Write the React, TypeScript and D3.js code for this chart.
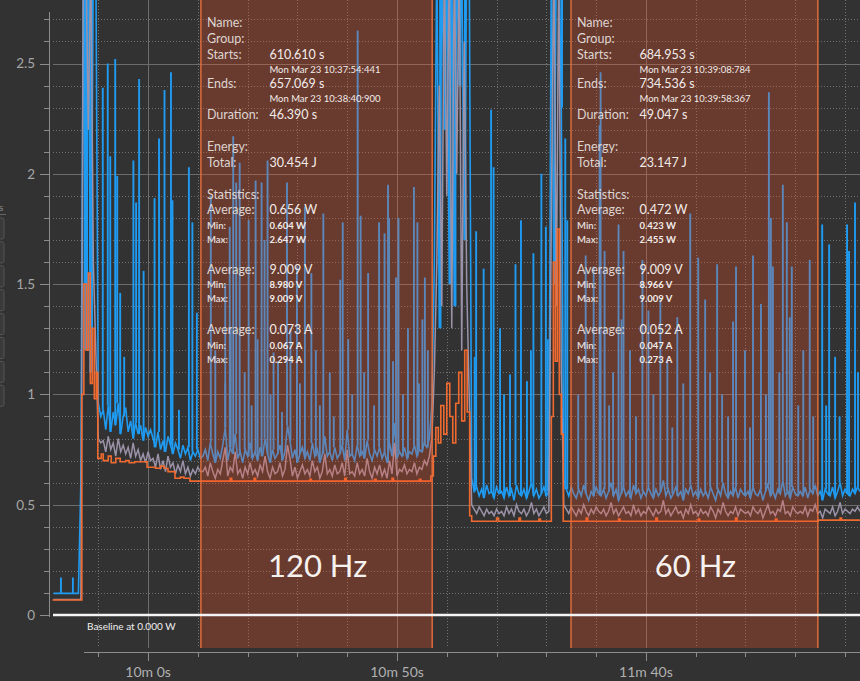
import React, { useEffect, useRef } from 'react';
import * as d3 from 'd3';

const WIDTH = 860;
const HEIGHT = 681;

// power traces sampled every TRACE_STEP seconds, starting at TRACE_START (seconds)
const TRACE_START = 581.0;
const TRACE_STEP = 0.5;

// max power (blue), W
const maxTrace: number[] = [
  0.098, 0.098, 0.098, 0.098, 0.098, 0.098, 0.098, 0.098, 0.098, 0.098, 0.098, 0.6, 3.0, 1.2, 3.0, 1.1, 3.0, 3.0, 0.96, 0.9,
  0.93, 0.84, 0.95, 0.83, 0.92, 0.86, 0.96, 0.82, 0.9, 0.94, 0.83, 0.88, 0.8, 0.87, 0.82, 0.86, 0.79, 0.85, 0.81, 0.84,
  0.8, 0.76, 0.83, 0.75, 0.79, 0.74, 0.81, 0.77, 0.73, 0.78, 0.75, 0.71, 0.77, 0.73, 0.76, 0.7, 0.74, 0.72, 0.75, 0.71,
  0.72, 0.75, 0.7, 0.78, 0.73, 0.69, 0.74, 0.71, 0.77, 0.85, 0.7, 0.76, 0.73, 0.82, 0.71, 0.74, 0.69, 0.75, 0.72, 0.78,
  0.71, 0.74, 0.7, 0.76, 0.72, 0.8, 0.73, 0.69, 0.75, 0.71, 0.73, 0.77, 0.7, 0.74, 0.86, 0.79, 0.71, 0.75, 0.69, 0.73,
  0.76, 0.71, 0.74, 0.7, 0.78, 0.72, 0.75, 0.69, 0.73, 0.81, 0.72, 0.74, 0.7, 0.76, 0.71, 0.73, 0.77, 0.7, 0.84, 0.72,
  0.73, 0.7, 0.77, 0.72, 0.74, 0.71, 0.79, 0.73, 0.7, 0.75, 0.72, 0.76, 0.71, 0.74, 0.69, 0.78, 0.72, 0.87, 0.71, 0.74,
  0.72, 0.76, 0.71, 0.74, 0.73, 0.77, 0.72, 0.75, 0.74, 0.78, 0.76, 0.8, 0.95, 1.6, 3.0, 1.3, 3.0, 2.2, 3.0, 1.5,
  3.0, 1.4, 3.0, 2.4, 3.0, 1.7, 3.0, 3.0, 0.62, 0.56, 0.58, 0.54, 0.57, 0.53, 0.59, 0.55, 0.56, 0.53, 0.58, 0.55,
  0.56, 0.53, 0.58, 0.54, 0.57, 0.52, 0.59, 0.55, 0.54, 0.57, 0.53, 0.56, 0.6, 0.54, 0.57, 0.53, 0.55, 0.58, 0.54, 0.56,
  3.0, 1.5, 3.0, 3.0, 2.3, 0.62, 0.57, 0.54, 0.58, 0.55, 0.53, 0.57, 0.54, 0.59, 0.55, 0.52, 0.56, 0.54, 0.58, 0.55,
  0.54, 0.57, 0.53, 0.56, 0.6, 0.54, 0.57, 0.52, 0.55, 0.58, 0.54, 0.56, 0.53, 0.59, 0.55, 0.57, 0.53, 0.56, 0.54, 0.58,
  0.55, 0.53, 0.57, 0.54, 0.56, 0.61, 0.54, 0.57, 0.53, 0.55, 0.58, 0.54, 0.56, 0.52, 0.57, 0.55, 0.59, 0.54, 0.56, 0.53,
  0.57, 0.54, 0.56, 0.53, 0.58, 0.55, 0.52, 0.57, 0.54, 0.6, 0.55, 0.53, 0.56, 0.54, 0.58, 0.53, 0.57, 0.55, 0.54, 0.56,
  0.53, 0.58, 0.55, 0.54, 0.57, 0.52, 0.56, 0.59, 0.54, 0.56, 0.53, 0.57, 0.55, 0.61, 0.54, 0.56, 0.53, 0.58, 0.55, 0.54,
  0.56, 0.54, 0.58, 0.53, 0.57, 0.55, 0.59, 0.54, 0.56, 0.52, 0.57, 0.55, 0.54, 0.58, 0.53, 0.56, 0.6, 0.54, 0.57, 0.55,
  0.54, 0.57, 0.55, 0.58, 0.56,
];

// average power (grey), W
const avgTrace: number[] = [
  0.07, 0.07, 0.07, 0.07, 0.07, 0.07, 0.07, 0.07, 0.07, 0.07, 0.07, 0.07, 3.0, 3.0, 2.2, 3.0, 1.6, 1.2, 0.8, 0.78,
  0.79, 0.74, 0.81, 0.75, 0.78, 0.72, 0.8, 0.74, 0.77, 0.73, 0.76, 0.71, 0.78, 0.72, 0.75, 0.7, 0.73, 0.69, 0.74, 0.7,
  0.71, 0.67, 0.73, 0.66, 0.7, 0.65, 0.72, 0.67, 0.69, 0.64, 0.68, 0.65, 0.7, 0.64, 0.67, 0.63, 0.66, 0.64, 0.67, 0.65,
  0.65, 0.67, 0.63, 0.69, 0.65, 0.62, 0.66, 0.64, 0.7, 0.76, 0.63, 0.67, 0.65, 0.74, 0.64, 0.66, 0.62, 0.67, 0.64, 0.69,
  0.64, 0.66, 0.63, 0.68, 0.65, 0.72, 0.65, 0.62, 0.67, 0.64, 0.65, 0.69, 0.63, 0.66, 0.77, 0.71, 0.63, 0.67, 0.62, 0.65,
  0.68, 0.64, 0.66, 0.63, 0.7, 0.65, 0.67, 0.62, 0.65, 0.73, 0.64, 0.66, 0.63, 0.68, 0.64, 0.65, 0.69, 0.63, 0.75, 0.64,
  0.65, 0.63, 0.69, 0.64, 0.66, 0.63, 0.71, 0.65, 0.62, 0.67, 0.64, 0.68, 0.63, 0.66, 0.62, 0.7, 0.64, 0.78, 0.63, 0.66,
  0.65, 0.68, 0.64, 0.66, 0.65, 0.69, 0.64, 0.67, 0.66, 0.7, 0.68, 0.72, 0.8, 1.1, 1.6, 2.4, 1.4, 3.0, 1.9, 3.0,
  1.3, 3.0, 2.0, 3.0, 1.2, 2.6, 1.5, 1.0, 0.5, 0.48, 0.46, 0.49, 0.47, 0.45, 0.48, 0.46, 0.47, 0.45, 0.48, 0.46,
  0.47, 0.45, 0.49, 0.46, 0.48, 0.45, 0.5, 0.47, 0.46, 0.48, 0.45, 0.47, 0.51, 0.46, 0.48, 0.45, 0.47, 0.49, 0.46, 0.47,
  1.8, 3.0, 1.4, 3.0, 1.1, 0.5, 0.48, 0.46, 0.49, 0.47, 0.45, 0.48, 0.46, 0.5, 0.47, 0.45, 0.48, 0.46, 0.49, 0.47,
  0.46, 0.48, 0.45, 0.47, 0.51, 0.46, 0.48, 0.45, 0.47, 0.49, 0.46, 0.47, 0.45, 0.5, 0.46, 0.48, 0.45, 0.47, 0.46, 0.49,
  0.47, 0.45, 0.48, 0.46, 0.47, 0.52, 0.46, 0.48, 0.45, 0.47, 0.49, 0.46, 0.47, 0.44, 0.48, 0.46, 0.5, 0.46, 0.47, 0.45,
  0.48, 0.46, 0.47, 0.45, 0.49, 0.47, 0.44, 0.48, 0.46, 0.51, 0.47, 0.45, 0.47, 0.46, 0.49, 0.45, 0.48, 0.47, 0.46, 0.47,
  0.45, 0.49, 0.47, 0.46, 0.48, 0.44, 0.47, 0.5, 0.46, 0.47, 0.45, 0.48, 0.47, 0.52, 0.46, 0.47, 0.45, 0.49, 0.47, 0.46,
  0.47, 0.46, 0.49, 0.45, 0.48, 0.47, 0.5, 0.46, 0.47, 0.44, 0.48, 0.47, 0.46, 0.49, 0.45, 0.47, 0.51, 0.46, 0.48, 0.47,
  0.46, 0.48, 0.47, 0.49, 0.47,
];

// min power (orange) as [time s, W] steps
const minSteps: [number, number][] = [
  [580.8, 0.068], [586.7, 1.0], [587.1, 1.5], [587.6, 1.2], [588.0, 1.55], [588.4, 1.05], [588.8, 1.3],
  [589.2, 0.98], [589.6, 1.1], [589.9, 0.71], [590.6, 0.73], [591.0, 0.7], [592.0, 0.72], [592.6, 0.69],
  [593.5, 0.71], [594.4, 0.695], [595.5, 0.7], [596.2, 0.69], [597.3, 0.695], [599.8, 0.67], [601.5, 0.665],
  [602.5, 0.675], [603.2, 0.665], [604.0, 0.65], [605.4, 0.62], [606.5, 0.625], [607.2, 0.62], [608.4, 0.607],
  [616.5, 0.62], [616.8, 0.607], [621.3, 0.62], [621.6, 0.607], [632.5, 0.615], [632.8, 0.607],
  [639.5, 0.62], [639.8, 0.607], [645.5, 0.615], [645.8, 0.607], [649.0, 0.62], [649.3, 0.607],
  [654.5, 0.615], [654.8, 0.607], [656.8, 0.63], [657.3, 0.72], [657.8, 0.85], [658.3, 0.78], [658.8, 0.95],
  [659.4, 0.82], [660.0, 1.05], [660.6, 0.9], [661.2, 0.78], [661.8, 0.96], [662.4, 1.1], [663.0, 0.88],
  [663.6, 1.2], [664.1, 0.92], [664.6, 0.45], [665.0, 0.425], [670.0, 0.44], [670.4, 0.425], [674.5, 0.44],
  [674.8, 0.425], [678.5, 0.435], [678.8, 0.425], [681.0, 0.9], [681.4, 1.6], [681.8, 1.15], [682.2, 1.75],
  [682.6, 1.0], [683.0, 0.82], [683.4, 0.425], [688.0, 0.44], [688.3, 0.425], [694.5, 0.435], [694.8, 0.425],
  [702.0, 0.44], [702.3, 0.425], [710.5, 0.435], [710.8, 0.425], [718.0, 0.44], [718.3, 0.425], [726.0, 0.435],
  [726.3, 0.425], [734.6, 0.43], [739.0, 0.44], [739.3, 0.43], [743.0, 0.43],
];

// narrow peaks of the max trace, [time s, W]; the bursts run off the top
const maxSpikes: [number, number][] = [
  [582.5, 0.17], [584.9, 0.17],
  [586.9, 3.0], [587.3, 3.0], [587.7, 3.0], [588.1, 3.0], [588.4, 3.0], [588.7, 3.0], [589.0, 3.0], [589.3, 3.0],
  [589.6, 3.0],
  [590.9, 2.39], [591.9, 2.5], [592.4, 2.08], [593.4, 2.52], [593.8, 1.99], [594.4, 1.46], [595.2, 1.17],
  [597.05, 2.06], [597.6, 1.87], [598.2, 2.43], [599.1, 1.56], [601.3, 1.89], [602.2, 2.16], [603.3, 2.38],
  [604.6, 2.46], [604.9, 1.88], [606.2, 0.93], [608.2, 2.03], [608.9, 1.78], [609.8, 1.37],
  [612.6, 1.9], [613.5, 1.2], [615.5, 1.05], [615.5, 1.5], [616.4, 1.76], [616.6, 1.3], [617.1, 2.17],
  [617.7, 1.96], [618.4, 2.05], [619.4, 1.1], [620.2, 1.79], [620.8, 0.95], [621.6, 1.97], [622.0, 1.25],
  [622.8, 1.96], [623.4, 1.7], [624.0, 2.06], [624.6, 1.0], [625.2, 1.19], [626.1, 1.15], [626.9, 0.92],
  [627.9, 1.96], [628.6, 1.3], [629.9, 1.58], [630.5, 1.05], [631.5, 1.85], [632.8, 1.55], [633.7, 1.2],
  [634.5, 0.95], [635.2, 1.82], [636.5, 1.1], [637.3, 0.9], [638.6, 1.52], [639.1, 1.78], [640.2, 1.25],
  [641.0, 1.0], [642.1, 2.65], [642.7, 1.81], [643.4, 1.1], [644.2, 1.55], [645.4, 0.95], [646.4, 1.78],
  [647.5, 1.73], [648.2, 1.95], [648.4, 1.8], [649.2, 1.15], [649.8, 1.53], [650.3, 1.8], [651.2, 1.0],
  [652.2, 1.3], [653.4, 1.94], [654.1, 1.78], [654.4, 1.05], [655.1, 1.34], [655.6, 1.53], [656.2, 1.2],
  [657.8, 3.0], [658.2, 3.0], [658.7, 3.0], [659.2, 3.0], [659.7, 3.0], [660.2, 3.0], [660.7, 3.0],
  [661.2, 3.0], [661.7, 3.0], [662.2, 3.0], [662.7, 3.0], [663.2, 3.0], [663.7, 3.0], [664.2, 3.0],
  [665.6, 1.17], [665.9, 1.74], [667.4, 1.57], [668.9, 2.29], [669.4, 2.03], [670.7, 1.3], [671.5, 1.0],
  [672.7, 1.09], [673.8, 1.59], [674.9, 1.79], [676.1, 1.06], [676.9, 1.2], [677.4, 1.64], [679.0, 2.0],
  [679.9, 1.76], [680.3, 1.25],
  [681.2, 3.0], [681.7, 3.0], [682.2, 3.0], [682.7, 3.0], [683.1, 3.0],
  [683.8, 2.16], [684.2, 1.79],
  [686.4, 1.0], [687.9, 1.63], [689.5, 1.15], [689.5, 1.58], [690.7, 2.22], [690.9, 2.46], [691.7, 1.65],
  [692.6, 0.95], [693.4, 1.1], [694.5, 1.77], [695.1, 1.34], [695.5, 1.65], [696.8, 1.2], [698.0, 0.9],
  [699.3, 1.61], [700.5, 1.38], [701.5, 1.0], [702.9, 1.43], [704.3, 1.15], [705.3, 0.85], [706.3, 1.35],
  [707.5, 1.05], [708.9, 1.82], [710.5, 1.62], [711.9, 1.43], [712.9, 1.1], [714.3, 1.59], [715.3, 1.0],
  [716.5, 0.9], [717.5, 1.33], [718.1, 1.58], [719.9, 1.2], [720.9, 0.85], [721.5, 1.63], [723.1, 1.41],
  [724.1, 1.0], [724.7, 2.37], [725.1, 1.8], [725.5, 1.58], [726.8, 1.1], [727.5, 1.95], [728.3, 1.78],
  [728.9, 1.35], [729.3, 1.58], [730.6, 0.95], [731.6, 1.2], [732.9, 1.61], [733.6, 0.9],
  [735.4, 1.77], [736.2, 0.95], [736.8, 1.68], [738.0, 1.17], [738.9, 0.9], [740.4, 1.77], [740.8, 1.65],
  [742.0, 1.87], [742.6, 1.1],
];

// marked regions
const regionStarts = [610.61, 684.953];
const regionEnds = [657.069, 734.536];
const regionTitles = ['120 Hz', '60 Hz'];

const infoLabels = [
  'Name:', 'Group:', 'Starts:', '', 'Ends:', '', 'Duration:', 'Energy:', 'Total:', 'Statistics:',
  'Average:', 'Min:', 'Max:', 'Average:', 'Min:', 'Max:', 'Average:', 'Min:', 'Max:',
];
const region1Info = [
  '', '', '610.610 s', 'Mon Mar 23 10:37:54:441', '657.069 s', 'Mon Mar 23 10:38:40:900', '46.390 s', '',
  '30.454 J', '', '0.656 W', '0.604 W', '2.647 W', '9.009 V', '8.980 V', '9.009 V', '0.073 A', '0.067 A', '0.294 A',
];
const region2Info = [
  '', '', '684.953 s', 'Mon Mar 23 10:39:08:784', '734.536 s', 'Mon Mar 23 10:39:58:367', '49.047 s', '',
  '23.147 J', '', '0.472 W', '0.423 W', '2.455 W', '9.009 V', '8.966 V', '9.009 V', '0.052 A', '0.047 A', '0.273 A',
];

const yTicks = [0, 0.5, 1, 1.5, 2, 2.5];
const xTicks = [600, 650, 700];
const xTickLabels = ['10m 0s', '10m 50s', '11m 40s'];

// text layout of the info block
const infoRowY = [27, 43, 59, 73, 88, 102, 119, 151, 167, 199, 214, 229, 243, 274, 288, 302, 334, 349, 363];
const infoRowKind = ['big', 'big', 'big', 'date', 'big', 'date', 'big', 'big', 'big', 'big',
  'big', 'stat', 'stat', 'big', 'stat', 'stat', 'big', 'stat', 'stat'];

const FONT = 'Lato, "Open Sans", sans-serif';
const BLUE = '#1f9bf2';
const GREY = '#9b92a8';
const ORANGE = '#f06a30';

const App: React.FC = () => {
  const svgRef = useRef<SVGSVGElement>(null);

  useEffect(() => {
    if (!svgRef.current) return;
    const svg = d3.select(svgRef.current);
    svg.selectAll('*').remove();

    const x = d3.scaleLinear().domain([580.3, 743.0]).range([50, 860]);
    const y = d3.scaleLinear().domain([0, 2.5]).range([615, 63.5]);
    const plotBottom = 648;

    svg.append('rect').attr('width', WIDTH).attr('height', HEIGHT).attr('fill', '#323232');

    // left side widgets (cut off)
    d3.range(8).forEach(i => {
      svg.append('rect')
        .attr('x', -5).attr('y', 218 + i * 23.9).attr('width', 9).attr('height', 21).attr('rx', 2)
        .attr('fill', '#3a3a3a').attr('stroke', '#545454');
    });
    svg.append('text').attr('x', -1).attr('y', 211).style('font-family', FONT).style('font-size', '10px')
      .style('fill', '#8a8a8a').text('s');
    svg.append('line').attr('x1', 0).attr('x2', 6).attr('y1', 214.5).attr('y2', 214.5).attr('stroke', '#666');

    // grid
    const grid = svg.append('g');
    d3.range(1, 28).filter(i => i % 5 !== 0).forEach(i => {
      grid.append('line')
        .attr('x1', 53).attr('x2', WIDTH).attr('y1', Math.round(y(i / 10)) + 0.5).attr('y2', Math.round(y(i / 10)) + 0.5)
        .attr('stroke', '#707070').attr('stroke-dasharray', '1,2');
    });
    yTicks.forEach(v => {
      grid.append('line')
        .attr('x1', 53).attr('x2', WIDTH).attr('y1', Math.round(y(v)) + 0.5).attr('y2', Math.round(y(v)) + 0.5)
        .attr('stroke', '#6c6c6c');
    });
    d3.range(590, 750, 10).filter(t => !xTicks.includes(t)).forEach(t => {
      grid.append('line')
        .attr('x1', Math.round(x(t)) + 0.5).attr('x2', Math.round(x(t)) + 0.5).attr('y1', 0).attr('y2', plotBottom)
        .attr('stroke', '#707070').attr('stroke-dasharray', '1,2');
    });
    xTicks.forEach(t => {
      grid.append('line')
        .attr('x1', Math.round(x(t)) + 0.5).attr('x2', Math.round(x(t)) + 0.5).attr('y1', 0).attr('y2', plotBottom)
        .attr('stroke', '#6c6c6c');
    });

    // traces
    const traceLine = d3.line<number>()
      .x((_, i) => x(TRACE_START + i * TRACE_STEP))
      .y(d => y(d));

    svg.append('path').attr('d', traceLine(maxTrace))
      .attr('fill', 'none').attr('stroke', BLUE).attr('stroke-width', 1.6);

    maxSpikes.forEach(([t, v]) => {
      const idx = Math.max(0, Math.min(maxTrace.length - 1, Math.round((t - TRACE_START) / TRACE_STEP)));
      svg.append('line')
        .attr('x1', x(t)).attr('x2', x(t)).attr('y1', y(Math.min(maxTrace[idx], v))).attr('y2', y(v))
        .attr('stroke', BLUE).attr('stroke-width', v >= 3 ? 2.4 : 1.9);
    });

    svg.append('path').attr('d', traceLine(avgTrace))
      .attr('fill', 'none').attr('stroke', GREY).attr('stroke-width', 1.5);

    const stepLine = d3.line<[number, number]>()
      .x(d => x(d[0])).y(d => y(d[1]))
      .curve(d3.curveStepAfter);
    svg.append('path').attr('d', stepLine(minSteps))
      .attr('fill', 'none').attr('stroke', ORANGE).attr('stroke-width', 1.6);

    // regions
    regionStarts.forEach((start, r) => {
      const x0 = x(start);
      const x1 = x(regionEnds[r]);
      svg.append('rect')
        .attr('x', x0).attr('y', 0).attr('width', x1 - x0).attr('height', plotBottom)
        .attr('fill', 'rgba(255, 80, 36, 0.27)');
      [x0, x1].forEach(xx => {
        svg.append('line')
          .attr('x1', xx).attr('x2', xx).attr('y1', 0).attr('y2', plotBottom)
          .attr('stroke', '#e8703c').attr('stroke-width', 1.4);
      });

      const info = r === 0 ? region1Info : region2Info;
      infoLabels.forEach((label, i) => {
        const kind = infoRowKind[i];
        const size = kind === 'big' ? '12.5px' : '9.5px';
        const weight = kind === 'stat' ? 'bold' : 'normal';
        if (label) {
          svg.append('text')
            .attr('x', x0 + 6).attr('y', infoRowY[i])
            .style('font-family', FONT).style('font-size', size).style('font-weight', weight)
            .style('fill', '#ddd5d1').text(label);
        }
        if (info[i]) {
          svg.append('text')
            .attr('x', x0 + 68.5).attr('y', infoRowY[i])
            .style('font-family', FONT).style('font-size', size).style('font-weight', weight)
            .style('fill', '#f2ece9').text(info[i]);
        }
      });

      svg.append('text')
        .attr('x', (x0 + x1) / 2 + 1).attr('y', 577)
        .attr('text-anchor', 'middle')
        .style('font-family', FONT).style('font-size', '31px')
        .style('fill', '#f6f2f0').text(regionTitles[r]);
    });

    // baseline
    svg.append('line')
      .attr('x1', 53).attr('x2', WIDTH).attr('y1', y(0)).attr('y2', y(0))
      .attr('stroke', '#f4f4f4').attr('stroke-width', 2.5);
    svg.append('text')
      .attr('x', 87).attr('y', 630)
      .style('font-family', FONT).style('font-size', '10px')
      .style('fill', '#f0f0f0').text('Baseline at 0.000 W');

    // y axis
    const yAxis = svg.append('g');
    yAxis.append('line').attr('x1', 49.5).attr('x2', 49.5).attr('y1', 12).attr('y2', 617).attr('stroke', '#8c8c8c');
    d3.range(0, 28).forEach(i => {
      const yy = Math.round(y(i / 10)) + 0.5;
      yAxis.append('line')
        .attr('x1', i % 5 === 0 ? 40 : 44).attr('x2', 49.5).attr('y1', yy).attr('y2', yy)
        .attr('stroke', '#8c8c8c');
    });
    yTicks.forEach(v => {
      yAxis.append('text')
        .attr('x', 35).attr('y', y(v)).attr('dy', '0.36em').attr('text-anchor', 'end')
        .style('font-family', FONT).style('font-size', '13.5px')
        .style('fill', '#a6a6a6').text(String(v));
    });

    // x axis
    const xAxis = svg.append('g');
    xAxis.append('line').attr('x1', 84).attr('x2', WIDTH).attr('y1', 652.5).attr('y2', 652.5).attr('stroke', '#8c8c8c');
    d3.range(590, 750, 10).forEach(t => {
      const xx = Math.round(x(t)) + 0.5;
      xAxis.append('line')
        .attr('x1', xx).attr('x2', xx).attr('y1', 652.5).attr('y2', xTicks.includes(t) ? 661 : 657)
        .attr('stroke', '#8c8c8c');
    });
    xTicks.forEach((t, i) => {
      xAxis.append('text')
        .attr('x', x(t)).attr('y', 677).attr('text-anchor', 'middle')
        .style('font-family', FONT).style('font-size', '14px')
        .style('fill', '#b0b0b0').text(xTickLabels[i]);
    });
  }, []);

  return (
    <div style={{ position: 'absolute', left: 0, top: 0, width: WIDTH, height: HEIGHT, background: '#323232' }}>
      <svg ref={svgRef} width={WIDTH} height={HEIGHT} style={{ display: 'block' }}></svg>
    </div>
  );
};

export default App;
